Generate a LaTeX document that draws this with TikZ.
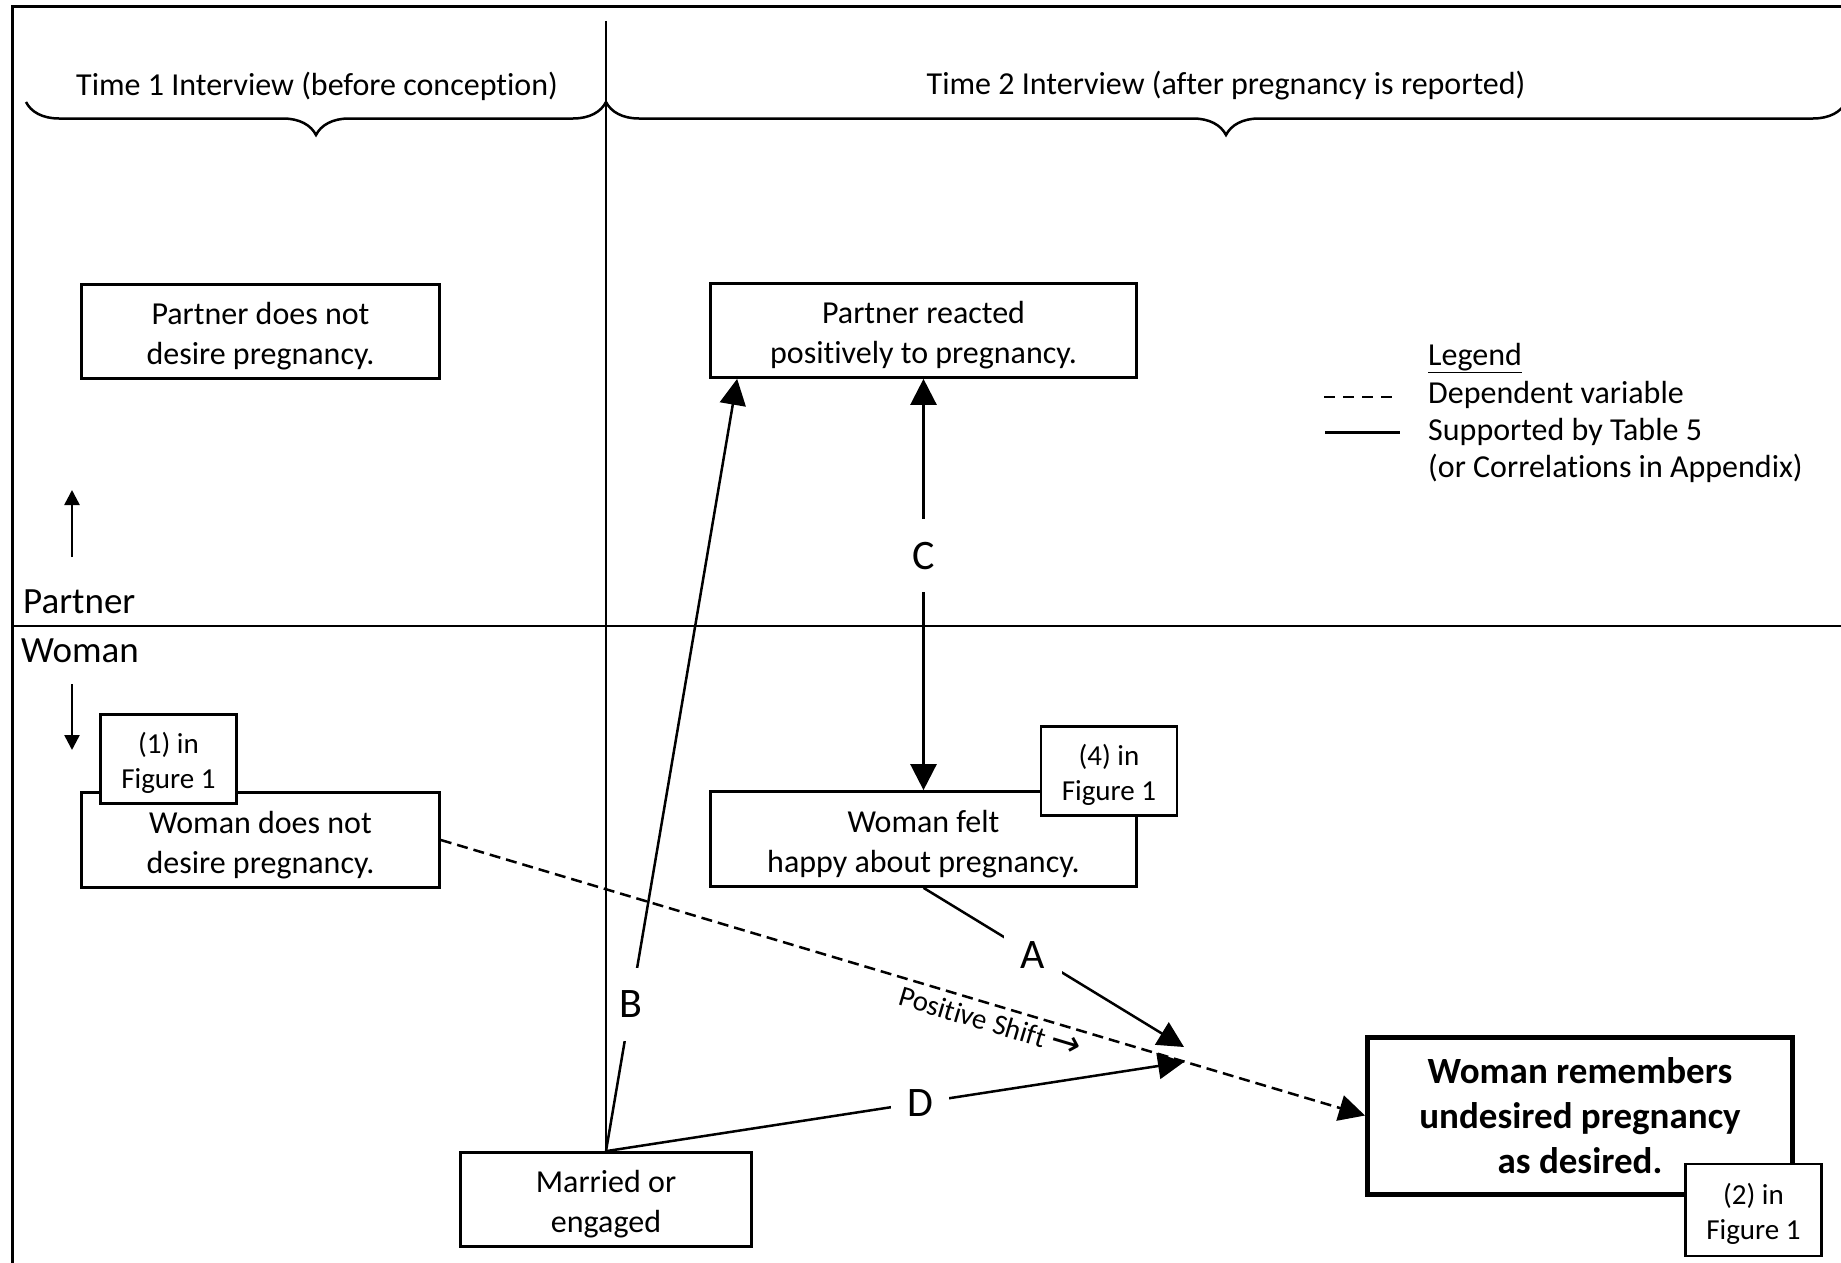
\documentclass[tikz,border=0pt]{standalone}
\usepackage{fontspec}
\setmainfont{Carlito}[Ligatures=NoCommon, RawFeature={-liga;-clig;-calt;-dlig}]
\newfontfamily\arrowfont{DejaVu Sans}
\usepackage{tikz}
\usetikzlibrary{arrows.meta,decorations.pathreplacing}

% strut that pushes the first line of a box down a little
\newcommand{\padtop}{\rule{0pt}{31.5pt}}
\newcommand{\padfig}{\rule{0pt}{29pt}}

\tikzset{
  box/.style={draw, line width=2.7, align=center, inner sep=0, font=\fontsize{32}{40}\selectfont},
  figbox/.style={draw, fill=white, line width=2.5, align=center, inner sep=0, minimum width=136, minimum height=89, font=\fontsize{29}{35}\selectfont},
  link/.style={line width=2.5, -{Triangle[length=26pt, width=26pt]}},
  twoway/.style={line width=2.5, {Triangle[length=26pt, width=26pt]}-{Triangle[length=26pt, width=26pt]}},
  small arrow/.style={line width=2.5, -{Triangle[length=15pt, width=15pt]}},
  letter/.style={fill=white, inner sep=0, minimum width=58, minimum height=73, font=\fontsize{42}{50}\selectfont},
  sidetext/.style={anchor=base west, inner sep=0, font=\fontsize{37}{44}\selectfont},
  legtext/.style={anchor=base west, inner sep=0, font=\fontsize{32}{39}\selectfont},
  bracetext/.style={inner sep=0, font=\fontsize{32}{39}\selectfont},
}

\begin{document}
\begin{tikzpicture}[x=1pt, y=-1pt]
    \useasboundingbox (0,0) rectangle (1841,1263);

    % Frame and split between partner / woman
    \draw [line width=3] (12,1263) -- (12,7) -- (1841,7);
    \draw [line width=1.5] (12,626) -- (1841,626);

    % Interview braces
    \draw [decorate, decoration={brace, amplitude=33}, line width=2.5] (606,102) -- (26,102);
    \draw [decorate, decoration={brace, amplitude=33}, line width=2.5] (1846,102) -- (606,102);
    \node [bracetext] (tone) at (317,86) {Time 1 Interview (before conception)};
    \node [bracetext] (ttwo) at (1226,86) {Time 2 Interview (after pregnancy is reported)};

    % Boxes
    \node [box, minimum width=358, minimum height=94] (prone) at (260.5,331.5) {\padtop Partner does not\\desire pregnancy.};
    \node [box, minimum width=426, minimum height=94] (prtwo) at (923.5,330.5) {\padtop Partner reacted\\positively to pregnancy.};
    \node [box, minimum width=358, minimum height=95] (woone) at (260.5,840) {\padtop Woman does not\\desire pregnancy.};
    \node [box, minimum width=426, minimum height=95] (wotwo) at (923.5,839) {\padtop Woman felt\\happy about pregnancy.};
    \node [box, minimum width=291, minimum height=94] (married) at (606,1199.5) {\padtop Married or\\engaged};
    \node [box, line width=5, minimum width=425, minimum height=157,
           font=\fontsize{37}{45}\selectfont\bfseries] (remember) at (1580,1115.5) {Woman remembers\\undesired pregnancy\\as desired.};

    % Side labels
    \node [sidetext] (partner) at (23,613) {Partner};
    \node [sidetext] (woman) at (21,662) {Woman};
    \coordinate (upfrom) at (72,557);
    \coordinate (upto) at (72,490);
    \coordinate (downfrom) at (72,684);
    \coordinate (downto) at (72,750);
    \draw [small arrow] (upfrom) -- (upto);
    \draw [small arrow] (downfrom) -- (downto);

    % Paths A to D
    \coordinate (tipa) at (1184,1047);
    \coordinate (tipd) at (1184,1062);
    \draw [twoway] (prtwo.south) -- node [letter, pos=0.43] {C} (wotwo.north);
    \draw [link] (married.north) -- node [letter, pos=0.19] {B} ([xshift=28]prtwo.south west);
    \draw [link] (married.north) -- node [letter, pos=0.544] {D} (tipd);
    \draw [link] (wotwo.south) -- node [letter, pos=0.42] {A} (tipa);
    \draw [link, dash pattern=on 11pt off 6pt] (woone.east) -- node [pos=0.6, sloped, below, inner sep=6, font=\fontsize{29}{35}\selectfont] (shift) {Positive Shift {\arrowfont\fontsize{36}{36}\selectfont →}} (remember.west);

    % Time 1 / Time 2 divider
    \draw [line width=1.5] (606,21) -- (married.north);

    % Figure 1 tags
    \node [figbox] (figone) at (168.5,759) {\padfig(1) in\\Figure 1};
    \node [figbox] (figfour) at (1109,771) {\padfig(4) in\\Figure 1};
    \node [figbox, minimum height=92] (figtwo) at (1753.5,1210) {\padfig(2) in\\Figure 1};

    % Legend
    \node [legtext] (legtitle) at (1428,365) {\underline{Legend}};
    \node [legtext] (legdash) at (1428,403) {Dependent variable};
    \node [legtext] (legsolid) at (1428,440) {Supported by Table 5};
    \node [legtext] (legmore) at (1428,477) {(or Correlations in Appendix)};
    \draw [line width=2.7, dash pattern=on 11pt off 8pt] (1324,397) -- (1392,397);
    \draw [line width=3] (1325,432) -- (1400,432);
\end{tikzpicture}
\end{document}
